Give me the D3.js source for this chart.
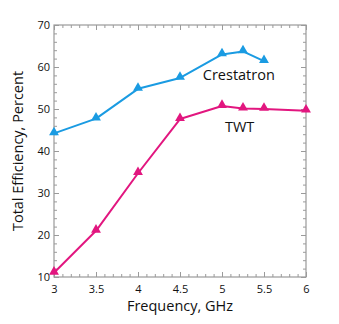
<!DOCTYPE html>
<html>
<head>
<meta charset="utf-8">
<script src="https://cdn.jsdelivr.net/npm/d3@7"></script>
<style>
  body { margin: 0; background: #fff; }
  svg text { font-family: "Open Sans", "Noto Sans", sans-serif; fill: #111; }
</style>
</head>
<body>
<div id="chart"></div>
<script>
// data
const freq = [3, 3.5, 4, 4.5, 5, 5.25, 5.5, 6];
const crestatron = [44.2, 47.7, 54.8, 57.4, 63.0, 63.7, 61.4, null];
const twt = [11.0, 21.0, 34.7, 47.6, 50.7, 50.1, 50.0, 49.6];
const xTicks = [3, 3.5, 4, 4.5, 5, 5.5, 6];
const yTicks = [10, 20, 30, 40, 50, 60, 70];

const W = 339, H = 324;
const margin = {top: 25, right: 33, bottom: 47, left: 54};
const w = W - margin.left - margin.right,
      h = H - margin.top - margin.bottom;

const svg = d3.select("#chart").append("svg")
  .attr("width", W).attr("height", H);
const g = svg.append("g")
  .attr("transform", "translate(" + margin.left + "," + margin.top + ")");

const x = d3.scaleLinear().domain([3, 6]).range([0, w]);
const y = d3.scaleLinear().domain([10, 70]).range([h, 0]);

const axisColor = "#9a9a9a";

// frame
g.append("rect").attr("width", w).attr("height", h)
  .attr("fill", "none").attr("stroke", axisColor).attr("stroke-width", 1.2);

// minor + major ticks, pointing inward on all four sides
const xMinor = d3.range(30, 61).map(d => d / 10);
const yMinor = d3.range(10, 71, 2);
function tickSet(axis, vals, len) {
  return axis.tickValues(vals).tickSize(len).tickFormat("");
}
const sides = [
  [d3.axisBottom(x), xMinor, "translate(0," + h + ")", -3],
  [d3.axisBottom(x), xTicks, "translate(0," + h + ")", -5],
  [d3.axisTop(x), xMinor, "translate(0,0)", -3],
  [d3.axisTop(x), xTicks, "translate(0,0)", -5],
  [d3.axisLeft(y), yMinor, "translate(0,0)", -3],
  [d3.axisLeft(y), yTicks, "translate(0,0)", -5],
  [d3.axisRight(y), yMinor, "translate(" + w + ",0)", -3],
  [d3.axisRight(y), yTicks, "translate(" + w + ",0)", -5]
];
sides.forEach(s => {
  const a = g.append("g").attr("transform", s[2]).call(tickSet(s[0], s[1], s[3]));
  a.select(".domain").remove();
  a.selectAll("line").attr("stroke", axisColor);
});

// tick labels
const xl = g.append("g").attr("transform", "translate(0," + h + ")")
  .call(d3.axisBottom(x).tickValues(xTicks).tickSize(0).tickPadding(8).tickFormat(d3.format("")));
xl.select(".domain").remove();
xl.selectAll("text").style("font-size", "11px").attr("fill", "#111");

const yl = g.append("g")
  .call(d3.axisLeft(y).tickValues(yTicks).tickSize(0).tickPadding(4));
yl.select(".domain").remove();
yl.selectAll("text").style("font-size", "11px").attr("fill", "#111");

// axis titles
svg.append("text")
  .attr("x", margin.left + w / 2).attr("y", 311)
  .attr("text-anchor", "middle").style("font-size", "14.5px")
  .text("Frequency, GHz");
svg.append("text")
  .attr("transform", "translate(23," + (margin.top + h / 2) + ") rotate(-90)")
  .attr("text-anchor", "middle").style("font-size", "14.5px")
  .text("Total Efficiency, Percent");

const series = [
  {name: "Crestatron", values: crestatron, color: "#1a9be2", lx: 5.2, ly: 56.9},
  {name: "TWT", values: twt, color: "#e2167f", lx: 5.21, ly: 44.6}
];

const line = d3.line()
  .defined(d => d[1] != null)
  .x(d => x(d[0])).y(d => y(d[1]));
const tri = d3.symbol().type(d3.symbolTriangle).size(42);

series.forEach(s => {
  const pts = freq.map((f, i) => [f, s.values[i]]).filter(d => d[1] != null);
  g.append("path").datum(pts)
    .attr("fill", "none").attr("stroke", s.color)
    .attr("stroke-width", 2).attr("stroke-linejoin", "round")
    .attr("d", line);
  g.selectAll(null).data(pts).enter().append("path")
    .attr("d", tri)
    .attr("transform", d => "translate(" + x(d[0]) + "," + (y(d[1]) - 1) + ")")
    .attr("fill", s.color);
  g.append("text")
    .attr("x", x(s.lx)).attr("y", y(s.ly))
    .attr("text-anchor", "middle").style("font-size", "14.5px")
    .text(s.name);
});
</script>
</body>
</html>
